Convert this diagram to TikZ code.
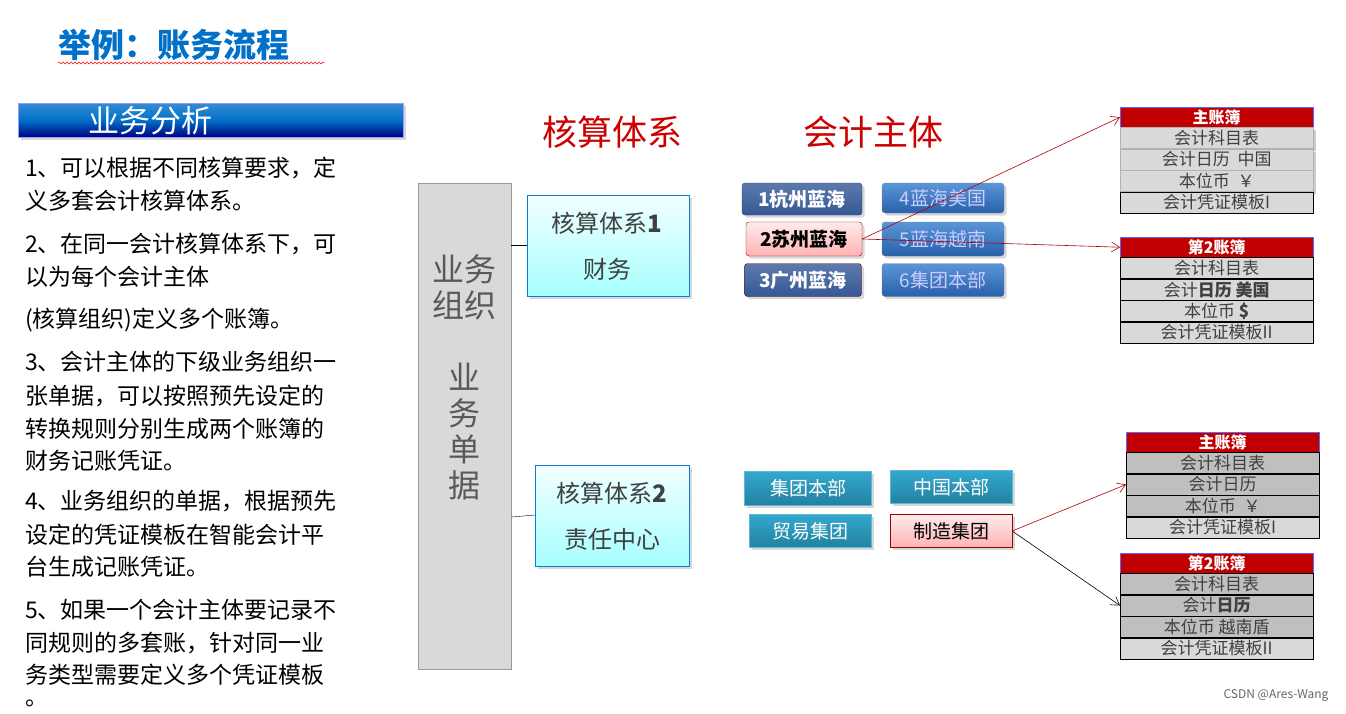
\documentclass[tikz,border=0pt]{standalone}
\usepackage{fontspec}
\setmainfont{Noto Sans CJK SC}
\usetikzlibrary{arrows.meta,shadows,decorations.pathmorphing}
\definecolor{dred}{RGB}{192,0,0}
\definecolor{tred}{RGB}{204,0,0}
\definecolor{navy}{RGB}{52,88,150}
\definecolor{lblue}{RGB}{90,150,215}
\definecolor{mblue}{RGB}{40,95,170}
\definecolor{tblue}{RGB}{0,112,200}
\definecolor{teal1}{RGB}{52,168,206}
\definecolor{teal2}{RGB}{34,130,160}
\tikzset{
 fs/.style={font=\fontsize{#1}{#1}\selectfont},
 btn/.style={draw=navy!80!black,rounded corners=3pt,top color=navy!80,bottom color=navy,text=white,fs=19,inner sep=0pt,drop shadow={opacity=0.3}},
 btnl/.style={draw=navy!70,rounded corners=3pt,top color=lblue,bottom color=mblue,text=white!80!blue,fs=19,inner sep=0pt,drop shadow={opacity=0.3}},
 pinkb/.style={draw=red!60!black,rounded corners=3pt,top color=red!8,bottom color=red!30,text=black,fs=19,inner sep=0pt,drop shadow={opacity=0.3}},
 tealb/.style={draw=teal1!80,top color=teal1,bottom color=teal2,text=white,fs=19,inner sep=0pt,drop shadow={opacity=0.3}},
 pinks/.style={draw=red!60!black,top color=red!8,bottom color=red!30,text=black,fs=19,inner sep=0pt,drop shadow={opacity=0.3}},
 cyanb/.style={draw=cyan!60!blue,top color=cyan!5,bottom color=cyan!35,drop shadow={opacity=0.3}},
 lhead/.style={draw=blue!60,fill=dred,text=white,font=\fontsize{16}{16}\selectfont\bfseries,inner sep=0pt},
 lrow/.style={draw=black,fill=black!25,text=black!75,fs=17,inner sep=0pt},
 lrowl/.style={draw=black,fill=black!15,text=black!75,fs=17,inner sep=0pt},
 para/.style={anchor=west,fs=23,inner sep=0pt},
 link/.style={-{Straight Barb[length=8pt,width=10pt]},line width=0.6pt},
}
\begin{document}
\begin{tikzpicture}[x=1pt,y=-1pt]
\useasboundingbox (0,0) rectangle (1346,713);
\fill[white] (0,0) rectangle (1346,713);
\node[anchor=west,text=tblue,font=\fontsize{33}{33}\selectfont\bfseries,inner sep=0pt] (title) at (58,45) {举例：账务流程};
\draw[red,decorate,decoration={snake,amplitude=1pt,segment length=4pt}] (58,63) -- (325,63);
% header bar
\node[draw=blue!40,top color=tblue!80,bottom color=blue!50!black,middle color=tblue,minimum width=385pt,minimum height=34pt,anchor=north west,inner sep=0pt,drop shadow={opacity=0.3}] (bar) at (18,103) {};
\node[text=white,fs=31,anchor=west] (bart) at (85,121) {业务分析};
% paragraphs
\node[para] (p1) at (25,168) {1、可以根据不同核算要求，定};
\node[para] (p1b) at (25,201) {义多套会计核算体系。};
\node[para] (p2) at (25,244) {2、在同一会计核算体系下，可};
\node[para] (p2b) at (25,277) {以为每个会计主体};
\node[para] (p2c) at (25,320) {(核算组织)定义多个账簿。};
\node[para] (p3) at (25,362) {3、会计主体的下级业务组织一};
\node[para] (p3b) at (25,396) {张单据，可以按照预先设定的};
\node[para] (p3c) at (25,429) {转换规则分别生成两个账簿的};
\node[para] (p3d) at (25,461) {财务记账凭证。};
\node[para] (p4) at (25,501) {4、业务组织的单据，根据预先};
\node[para] (p4b) at (25,535) {设定的凭证模板在智能会计平};
\node[para] (p4c) at (25,567) {台生成记账凭证。};
\node[para] (p5) at (25,610) {5、如果一个会计主体要记录不};
\node[para] (p5b) at (25,643) {同规则的多套账，针对同一业};
\node[para] (p5c) at (25,675) {务类型需要定义多个凭证模板};
\node[para] (p5d) at (25,703) {。};
% gray column
\node[draw=black!40,fill=black!15,minimum width=93pt,minimum height=486pt,anchor=north west,inner sep=0pt] (org) at (418,183) {};
\node[fs=32,text=black!65,align=center,inner sep=0pt] (orgt) at (464,287) {业务\\[4pt]组织};
\node[fs=32,text=black!65,align=center,inner sep=0pt] (orgt2) at (464,432) {业\\[4pt]务\\[4pt]单\\[4pt]据};
% headings
\node[text=tred,fs=35] (h1) at (612,132) {核算体系};
\node[text=tred,fs=35] (h2) at (873,132) {会计主体};
% system boxes
\node[cyanb,minimum width=162pt,minimum height=101pt,anchor=north west,inner sep=0pt] (s1) at (527,195) {};
\node[fs=24,text=black!75,align=center] (s1t) at (607,246) {核算体系\textbf{1}\\[22pt]财务};
\node[cyanb,minimum width=154pt,minimum height=101pt,anchor=north west,inner sep=0pt] (s2) at (535,465) {};
\node[fs=24,text=black!75,align=center] (s2t) at (612,516) {核算体系\textbf{2}\\[22pt]责任中心};
\draw (org.east |- 0,245) -- (s1.west |- 0,245);
\draw (org.east |- 0,517) -- (s2.west |- 0,515);
% entities
\node[btn,minimum width=120pt,minimum height=32pt] (e1) at (802,199) {\textbf{1杭州蓝海}};
\node[btnl,minimum width=122pt,minimum height=30pt] (e4) at (943,198) {4蓝海美国};
\node[pinkb,minimum width=116pt,minimum height=34pt] (e2) at (804,239) {\textbf{2苏州蓝海}};
\node[btnl,minimum width=122pt,minimum height=34pt] (e5) at (943,239) {5蓝海越南};
\node[btn,draw=red!50!black,minimum width=117pt,minimum height=33pt] (e3) at (803,280) {\textbf{3广州蓝海}};
\node[btnl,minimum width=122pt,minimum height=33pt] (e6) at (943,280) {6集团本部};
\node[tealb,minimum width=127pt,minimum height=34pt] (b1) at (808,488) {集团本部};
\node[tealb,minimum width=122pt,minimum height=33pt] (b2) at (951,487) {中国本部};
\node[tealb,minimum width=122pt,minimum height=33pt] (b3) at (810,531) {贸易集团};
\node[pinks,minimum width=122pt,minimum height=33pt] (b4) at (951,531) {制造集团};
% ledgers
\newcommand\ledger[9]{%
 \node[lhead,minimum width=193pt,minimum height=20pt,anchor=north west] (#1h) at (#2,#3) {#4};
 \node[#9,minimum width=193pt,minimum height=21pt,anchor=north] (#1a) at (#1h.south) {#5};
 \node[#9,minimum width=193pt,minimum height=21pt,anchor=north] (#1b) at (#1a.south) {#6};
 \node[#9,minimum width=193pt,minimum height=21pt,anchor=north] (#1c) at (#1b.south) {#7};
 \node[lrowl,minimum width=193pt,minimum height=21pt,anchor=north] (#1d) at (#1c.south) {#8};}
\ledger{La}{1120}{107}{主账簿}{会计科目表}{会计日历\ \ 中国}{本位币\ \ ￥}{会计凭证模板I}{lrowl,draw=black!30,drop shadow={opacity=0.4}}
\ledger{Lb}{1120}{237}{第2账簿}{会计科目表}{会计\textbf{日历 美国}}{本位币 \textbf{\$}}{会计凭证模板II}{lrowl}
\ledger{Lc}{1126}{432}{主账簿}{会计科目表}{会计日历}{本位币\ \ ￥}{会计凭证模板I}{lrow}
\ledger{Ld}{1120}{553}{第2账簿}{会计科目表}{会计\textbf{日历}}{本位币 越南盾}{会计凭证模板II}{lrow}
% connectors
\draw[link,red!70!black] (e2.east) -- (Lah.west);
\draw[link,red!70!black] (e2.east) -- (Lbh.west);
\draw[link,red!70!black] (b4.east) -- (Lcb.west);
\draw[link,black] (b4.east) -- (Ldb.west);
\node[anchor=east,fs=12,text=black!60] (wm) at (1332,696) {CSDN @Ares-Wang};
\end{tikzpicture}
\end{document}
